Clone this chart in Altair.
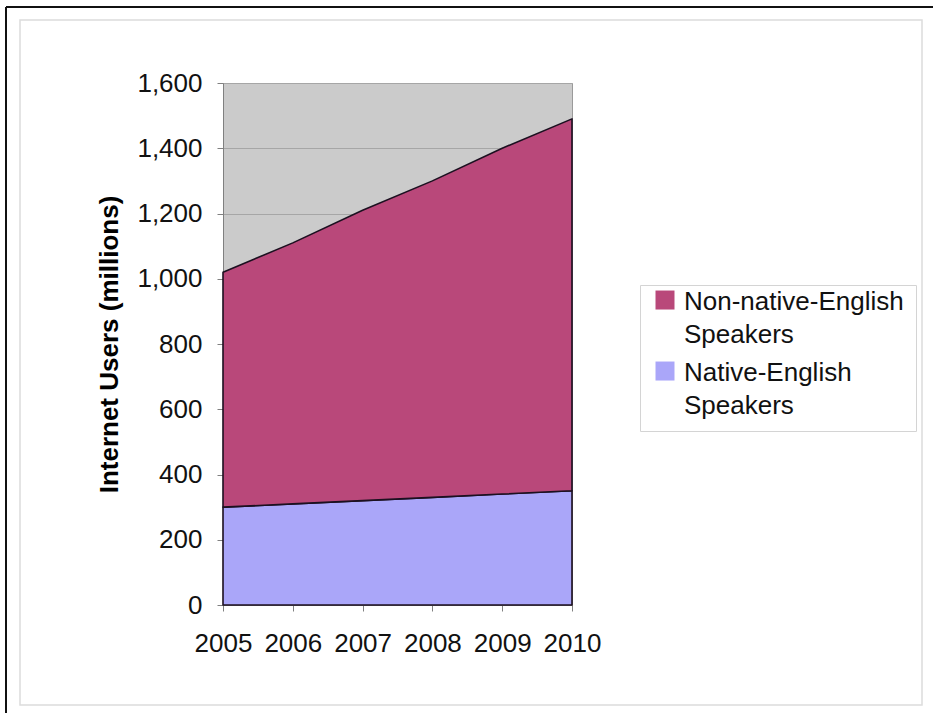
import altair as alt
import pandas as pd

# Internet users by language group, millions
years = [2005, 2006, 2007, 2008, 2009, 2010]
native_english = [300, 310, 320, 330, 340, 350]
non_native_english = [720, 800, 890, 970, 1060, 1140]

series_names = ["Non-native-English Speakers", "Native-English Speakers"]
series_colors = ["#b9487a", "#aaa6f9"]
y_ticks = [0, 200, 400, 600, 800, 1000, 1200, 1400, 1600]

rows = []
for yr, nat, non in zip(years, native_english, non_native_english):
    rows.append({"year": yr, "group": series_names[1], "users": nat, "stack_rank": 0})
    rows.append({"year": yr, "group": series_names[0], "users": non, "stack_rank": 1})
df = pd.DataFrame(rows)

FONT = "Liberation Sans"

areas = alt.Chart(df).mark_area(
    stroke="#1c1020", strokeWidth=1.6, strokeJoin="round", opacity=1
).encode(
    x=alt.X(
        "year:O",
        scale=alt.Scale(padding=0),
        axis=alt.Axis(
            title=None, labelAngle=0, tickSize=6, labelPadding=19,
            domainColor="#808080", tickColor="#808080", grid=False,
        ),
    ),
    y=alt.Y(
        "users:Q",
        stack="zero",
        scale=alt.Scale(domain=[0, 1600], nice=False),
        axis=alt.Axis(
            title="Internet Users (millions)", values=y_ticks, format=",.0f",
            tickSize=6, labelPadding=15, titlePadding=14,
            titleFontWeight="bold", titleFontSize=26, titleFont=FONT, titleColor="#000000",
            domainColor="#808080", tickColor="#808080",
            grid=True, gridColor="#a6a6a6", gridWidth=1,
        ),
    ),
    color=alt.Color(
        "group:N",
        scale=alt.Scale(domain=series_names, range=series_colors),
        legend=alt.Legend(
            title=None, orient="none", legendX=417, legendY=202,
            symbolType="M-1,-2.05H1V-0.05H-1Z", symbolSize=361,
            symbolStrokeWidth=0, symbolOpacity=1,
            labelExpr="split(replace(datum.label, '-English ', '-English|'), '|')",
            labelBaseline="alphabetic",
            labelFontSize=26, labelFont=FONT, labelColor="#111111",
            labelOffset=6, labelLimit=400,
            rowPadding=12, padding=12,
            strokeColor="#d4d4d4", fillColor="#ffffff",
        ),
    ),
    order=alt.Order("stack_rank:Q"),
)

frame_df = pd.DataFrame({"f": [0]})

# light inner page border
inner = alt.Chart(frame_df).mark_rect(
    fillOpacity=0, stroke="#dcdcdc", strokeWidth=1.5
).encode(
    x=alt.value(-203), x2=alt.value(699), y=alt.value(-63), y2=alt.value(622)
)

# dark outer border (left and top edges)
outer_left = alt.Chart(frame_df).mark_rule(color="#111111", strokeWidth=2).encode(
    x=alt.value(-217), y=alt.value(-76), y2=alt.value(640)
)
outer_top = alt.Chart(frame_df).mark_rule(color="#111111", strokeWidth=2).encode(
    x=alt.value(-217), x2=alt.value(720), y=alt.value(-76)
)

chart = alt.layer(inner, outer_left, outer_top, areas).properties(
    width=349,
    height=522,
    autosize=alt.AutoSizeParams(type="none"),
    padding={"left": 223, "top": 83, "right": 361, "bottom": 108},
    background="#ffffff",
).configure(
    style={"guide-label": {"lineHeight": 33}}
).configure_view(
    fill="#cbcbcb", stroke="#9a9a9a", strokeWidth=1
).configure_axis(
    labelFont=FONT, labelFontSize=26, labelColor="#111111",
)

chart.save("out.html", embed_options={"renderer": "svg", "actions": False})
